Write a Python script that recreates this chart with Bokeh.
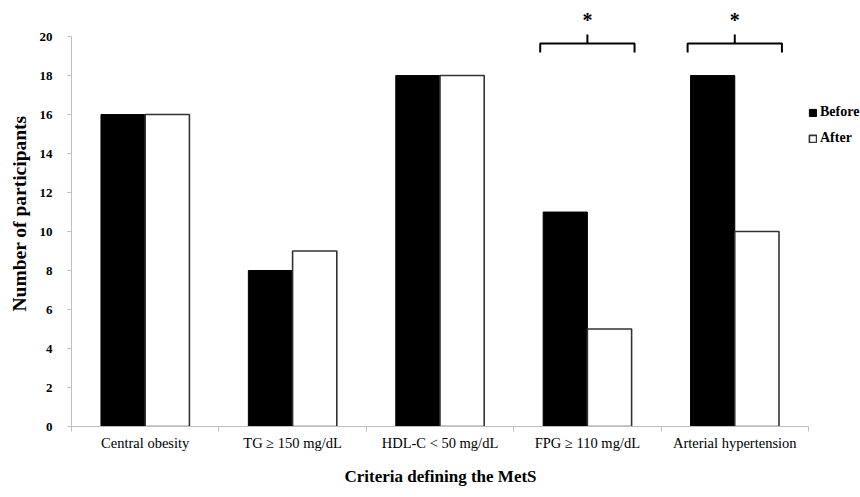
from bokeh.plotting import figure
from bokeh.models import Range1d, FixedTicker, Legend, LegendItem, ColumnDataSource
from bokeh.core.properties import value
from bokeh.embed import file_html
from bokeh.resources import INLINE

categories = ["Central obesity", "TG \u2265 150 mg/dL", "HDL-C < 50 mg/dL",
              "FPG \u2265 110 mg/dL", "Arterial hypertension"]
before = [16, 8, 18, 11, 18]
after = [16, 9, 18, 5, 10]
y_ticks = [0, 2, 4, 6, 8, 10, 12, 14, 16, 18, 20]
significant = ["FPG \u2265 110 mg/dL", "Arterial hypertension"]
x_title = "Criteria defining the MetS"
y_title = "Number of participants"

FONT = "Liberation Serif"
BAR_W = 0.3

n = len(categories)
centers = [i + 0.5 for i in range(n)]

# x range extends past the last category to leave room for the legend
p = figure(width=860, height=497, output_backend="svg", toolbar_location=None,
           x_range=Range1d(0, n + 0.353), y_range=Range1d(0, 21.85),
           min_border_left=71, min_border_right=0, min_border_top=0,
           min_border_bottom=71)
p.outline_line_color = None
p.grid.visible = False
p.background_fill_color = "white"

src_b = ColumnDataSource(dict(x=[c - BAR_W / 2 for c in centers], top=before))
src_a = ColumnDataSource(dict(x=[c + BAR_W / 2 for c in centers], top=after))
rb = p.vbar(x="x", top="top", width=BAR_W, source=src_b, fill_color="black",
            line_color="black", line_width=1)
ra = p.vbar(x="x", top="top", width=BAR_W, source=src_a, fill_color="white",
            line_color="#333333", line_width=1.6)

# significance brackets
xs, ys = [], []
star_x = []
for name in significant:
    c = centers[categories.index(name)]
    xs.append([c - 0.32, c - 0.32, c + 0.32, c + 0.32])
    ys.append([19.18, 19.64, 19.64, 19.18])
    xs.append([c, c])
    ys.append([19.64, 20.1])
    star_x.append(c)
p.multi_line(xs=xs, ys=ys, line_color="black", line_width=2)
p.text(x=star_x, y=[20.85] * len(star_x), text=["*"] * len(star_x),
       text_font=value(FONT), text_font_style="bold", text_font_size="20px",
       text_align="center", text_baseline="middle", text_color="black")

# axes
xa = p.xaxis[0]
xa.ticker = FixedTicker(ticks=centers, minor_ticks=list(range(n + 1)))
xa.bounds = (0, n)
xa.major_label_overrides = {c: lab for c, lab in zip(centers, categories)}
xa.major_tick_in = 0
xa.major_tick_out = 0
xa.minor_tick_in = 0
xa.minor_tick_out = 5
xa.axis_line_color = "#bfbfbf"
xa.minor_tick_line_color = "#bfbfbf"
xa.major_label_text_font = FONT
xa.major_label_text_font_size = "14.5px"
xa.major_label_text_color = "black"
xa.major_label_standoff = 3
# trailing no-break spaces keep the title centred under the category area
xa.axis_label = x_title + "\u00a0" * 12
xa.axis_label_text_font = FONT
xa.axis_label_text_font_style = "bold"
xa.axis_label_text_font_size = "17px"
xa.axis_label_text_color = "black"
xa.axis_label_standoff = 13

ya = p.yaxis[0]
ya.ticker = FixedTicker(ticks=y_ticks)
ya.bounds = (0, 20)
ya.major_tick_in = 0
ya.major_tick_out = 4
ya.minor_tick_line_color = None
ya.axis_line_color = "#bfbfbf"
ya.major_tick_line_color = "#bfbfbf"
ya.major_label_text_font = FONT
ya.major_label_text_font_style = "bold"
ya.major_label_text_font_size = "13px"
ya.major_label_text_color = "black"
ya.major_label_standoff = 15
ya.axis_label = y_title
ya.axis_label_text_font = FONT
ya.axis_label_text_font_style = "bold"
ya.axis_label_text_font_size = "19.5px"
ya.axis_label_text_color = "black"
ya.axis_label_standoff = 7

legend = Legend(items=[LegendItem(label="Before", renderers=[rb]),
                       LegendItem(label="After", renderers=[ra])],
                location=(737, 280), orientation="vertical",
                glyph_width=9, glyph_height=9, label_standoff=3, spacing=10,
                label_height=14, padding=0, margin=0,
                border_line_color=None, background_fill_alpha=0,
                label_text_font=FONT, label_text_font_style="bold",
                label_text_font_size="14px", label_text_color="black")
p.add_layout(legend, "center")

open("out.html", "w").write(file_html(p, INLINE))
